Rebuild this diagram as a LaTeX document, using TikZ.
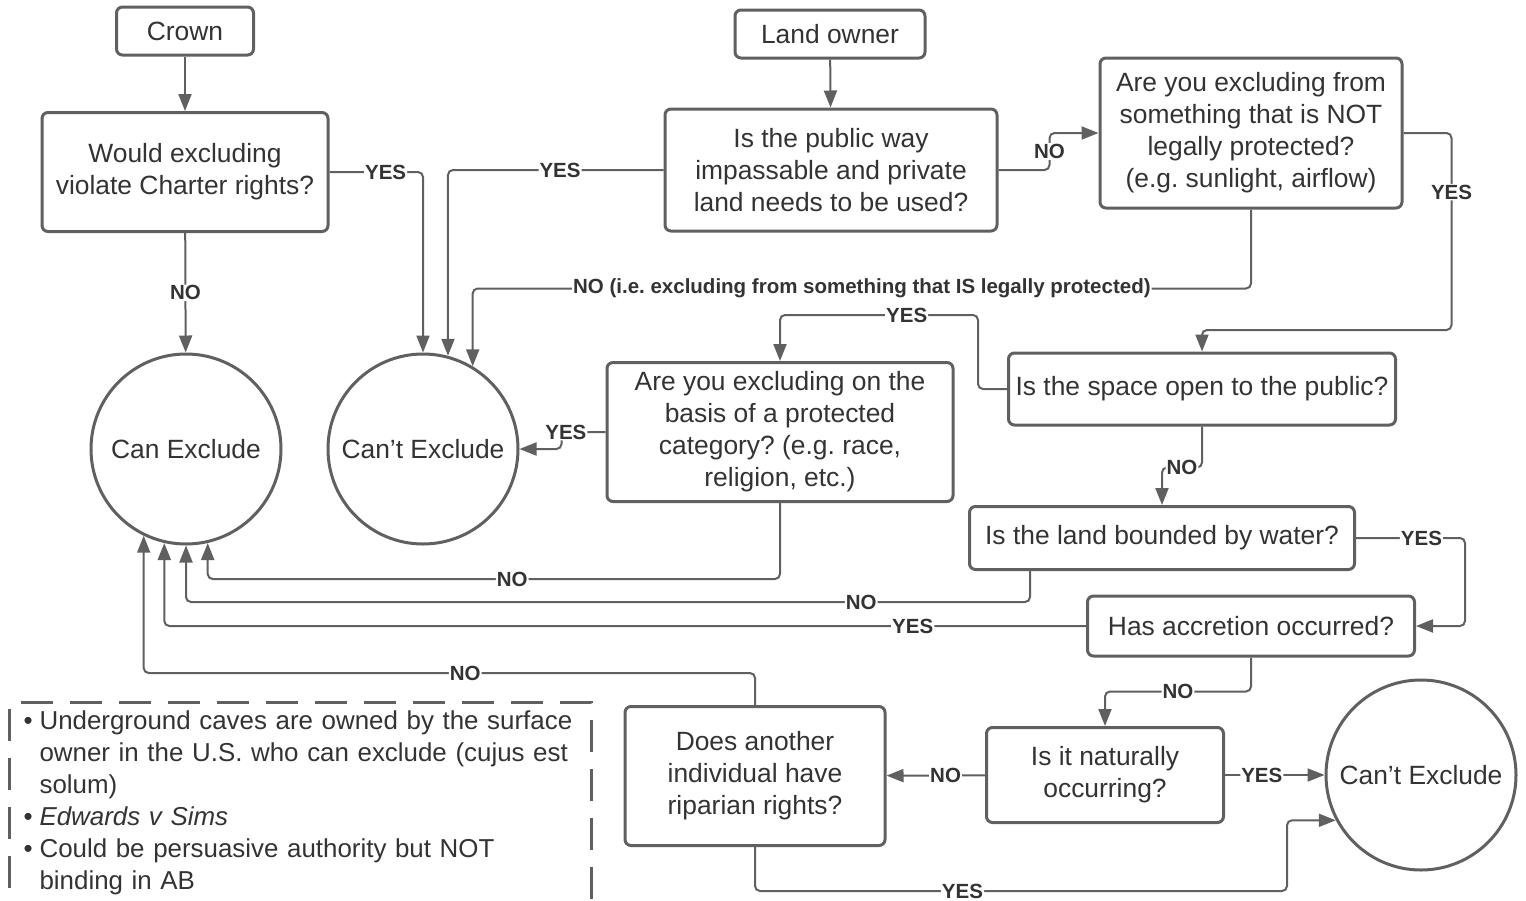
\documentclass[tikz,border=0pt]{standalone}
\usepackage{fontspec}
\setmainfont{Liberation Sans}
\usetikzlibrary{arrows.meta}
\definecolor{linegray}{RGB}{96,96,96}
\definecolor{textgray}{RGB}{51,51,51}
\frenchspacing

\begin{document}
\begin{tikzpicture}[x=1pt,y=-1pt,
  box/.style={draw=linegray,line width=3pt,rounded corners=6pt,align=center,text=textgray,
    font=\fontsize{26.4}{32}\selectfont,inner sep=0pt},
  endcircle/.style={draw=linegray,line width=3pt,circle,minimum size=190pt,text=textgray,
    font=\fontsize{26.4}{32}\selectfont,inner sep=0pt},
  arr/.style={draw=linegray,line width=2pt,rounded corners=5pt,-{Triangle[length=17pt,width=13pt]}},
  lbl/.style={fill=white,text=textgray,font=\fontsize{20.5}{22}\selectfont\bfseries,inner sep=1pt},
  notes/.style={draw=linegray,line width=3pt,dash pattern=on 32pt off 17pt,text=textgray,
    font=\fontsize{25.9}{32}\selectfont,inner xsep=14pt,inner ysep=5pt,text width=554pt,
    anchor=north west,align=left}]
\useasboundingbox (0,0) rectangle (1526,900);

% starting points
\node[box,minimum width=137pt,minimum height=48pt] (crown) at (185,31) {Crown};
\node[box,minimum width=190pt,minimum height=48pt] (owner) at (830,34) {Land owner};

% questions
\node[box,minimum width=286pt,minimum height=119pt] (charter) at (185,172) {Would excluding\\violate Charter rights?};
\node[box,minimum width=332pt,minimum height=122pt] (publicway) at (831,170) {Is the public way\\impassable and private\\land needs to be used?};
\node[box,minimum width=302pt,minimum height=150pt] (notprot) at (1251,133) {Are you excluding from\\something that is NOT\\legally protected?\\(e.g. sunlight, airflow)};
\node[box,minimum width=346pt,minimum height=139pt] (category) at (780,432) {Are you excluding on the\\basis of a protected\\category? (e.g. race,\\religion, etc.)};
\node[box,minimum width=387pt,minimum height=72pt] (openspace) at (1202,389) {Is the space open to the public?};
\node[box,minimum width=385pt,minimum height=63pt] (water) at (1162,538) {Is the land bounded by water?};
\node[box,minimum width=327pt,minimum height=60pt] (accretion) at (1251,626) {Has accretion occurred?};
\node[box,minimum width=237pt,minimum height=95pt] (natural) at (1105,775) {Is it naturally\\occurring?};
\node[box,minimum width=260pt,minimum height=139pt] (riparian) at (755,776) {Does another\\individual have\\riparian rights?};

% outcomes
\node[endcircle] (canex) at (186,449) {Can Exclude};
\node[endcircle] (cantex) at (423,449) {Can’t Exclude};
\node[endcircle] (cantexb) at (1421,775) {Can’t Exclude};

% note
\node[notes] (cavenote) at (8,701) {\begin{tabular}{@{}l@{\hspace{7pt}}l@{}}
\textbullet & Underground caves are owned by the surface\\
 & owner in the U.S. who can exclude (cujus est\\
 & solum)\\
\textbullet & \textit{Edwards v Sims}\\
\textbullet & Could be persuasive authority but NOT\\
 & binding in AB
\end{tabular}};

% connectors
\draw[arr] (crown) -- (charter);
\draw[arr] (owner) -- (publicway);
\draw[arr] (charter) -- node[lbl]{NO} (canex);
\draw[arr] (charter.east) -| node[lbl,pos=0.3]{YES} (cantex.north);
\draw[arr] (publicway.west) -| node[lbl,pos=0.24]{YES} (cantex.75);
\draw[arr] (publicway.east) -- ++(51,0) |- node[lbl,pos=0.25]{NO} (notprot.west);
\draw[arr] (notprot.south) -- ++(0,79) -| node[lbl,pos=0.25]{NO (i.e. excluding from something that IS legally protected)} (cantex.59);
\draw[arr] (notprot.east) -- ++(48,0) -- node[lbl,pos=0.3]{YES} ++(0,197) -| (openspace.north);
\draw[arr] (openspace.west) -- ++(-29,0) -- ++(0,-74) -| node[lbl,pos=0.18]{YES} (category.north);
\draw[arr] (category.west) -- node[lbl,pos=0.9]{YES} ++(-44,0) |- (cantex.east);
\draw[arr] (category.south) -- ++(0,76) -| node[lbl,pos=0.234]{NO} (canex.283);
\draw[arr] (openspace.south) -- ++(0,41) -| node[lbl,pos=0.25]{NO} (water.north);
\draw[arr] ([xshift=62pt]water.south west) -- ++(0,31) -| node[lbl,pos=0.1]{NO} (canex.south);
\draw[arr] (water.east) -- node[lbl,pos=0.6]{YES} ++(109,0) |- (accretion.east);
\draw[arr] (accretion.west) -| node[lbl,pos=0.094]{YES} (canex.257);
\draw[arr] (accretion.south) -- ++(0,34) -| node[lbl,pos=0.25]{NO} (natural.north);
\draw[arr] (natural) -- node[lbl,pos=0.4]{NO} (riparian);
\draw[arr] (natural) -- node[lbl,pos=0.37]{YES} (cantexb);
\draw[arr] (riparian.south) -- ++(0,44) -- node[lbl,pos=0.39]{YES} ++(532,0) |- (cantexb.208);
\draw[arr] (riparian.north) -- ++(0,-32) -| node[lbl,pos=0.237]{NO} (canex.244);
\end{tikzpicture}
\end{document}
